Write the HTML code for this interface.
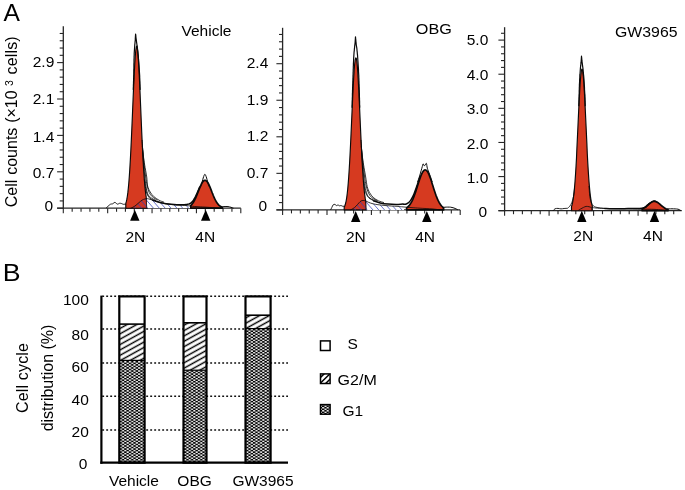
<!DOCTYPE html>
<html><head><meta charset="utf-8"><title>Figure</title>
<style>
html,body{margin:0;padding:0;background:#fff;}
body{width:685px;height:490px;overflow:hidden;font-family:"Liberation Sans",sans-serif;}
svg{display:block;will-change:transform;}
text{font-family:"Liberation Sans",sans-serif;fill:#000;}
.t{font-size:15.5px;}
.big{font-size:24.5px;}
</style></head><body>
<svg width="685" height="490" viewBox="0 0 685 490">
<defs>
<pattern id="bluehatch" width="5.3" height="5.3" patternUnits="userSpaceOnUse" patternTransform="translate(1.5,0) rotate(-45)">
<line x1="2.6" y1="0" x2="2.6" y2="5.3" stroke="#4656c8" stroke-width="0.85"/></pattern>
<pattern id="hatch" width="6" height="4.7" patternUnits="userSpaceOnUse" patternTransform="rotate(-29)">
<rect width="6" height="4.7" fill="#fff"/><line x1="0" y1="2.35" x2="6" y2="2.35" stroke="#000" stroke-width="1.45"/></pattern>
<pattern id="check" width="4.6" height="3.06" patternUnits="userSpaceOnUse">
<rect width="4.6" height="3.06" fill="#000"/><rect x="0.1" y="0.05" width="2.1" height="1.43" fill="#fff"/><rect x="2.4" y="1.58" width="2.1" height="1.43" fill="#fff"/></pattern>
</defs>
<rect width="685" height="490" fill="#fff"/>

<text x="3.6" y="21.2" class="big" textLength="16.4" lengthAdjust="spacingAndGlyphs">A</text>
<text x="2.8" y="281.0" class="big" textLength="17.8" lengthAdjust="spacingAndGlyphs">B</text>
<text x="181.5" y="36.3" class="t">Vehicle</text>
<text x="415.8" y="34.4" class="t" textLength="36" lengthAdjust="spacingAndGlyphs">OBG</text>
<text x="615" y="37.2" class="t" textLength="62.5" lengthAdjust="spacingAndGlyphs">GW3965</text>
<text transform="translate(16.9,207.2) rotate(-90)" style="font-size:16px;word-spacing:0.4px">Cell counts (×10<tspan dx="4.4" dy="-4.3" style="font-size:10.5px">3</tspan><tspan dx="5.6" dy="4.3" style="letter-spacing:0.15px">cells)</tspan></text>
<line x1="63.3" y1="26.2" x2="63.3" y2="208.79999999999998" stroke="#262626" stroke-width="1.3"/>
<line x1="57.099999999999994" y1="208.2" x2="240.8" y2="208.2" stroke="#262626" stroke-width="1.3"/>
<line x1="57.1" y1="208.20" x2="63.3" y2="208.20" stroke="#262626" stroke-width="1.1"/>
<line x1="59.7" y1="200.92" x2="63.3" y2="200.92" stroke="#262626" stroke-width="1.1"/>
<line x1="59.7" y1="193.64" x2="63.3" y2="193.64" stroke="#262626" stroke-width="1.1"/>
<line x1="59.7" y1="186.36" x2="63.3" y2="186.36" stroke="#262626" stroke-width="1.1"/>
<line x1="59.7" y1="179.08" x2="63.3" y2="179.08" stroke="#262626" stroke-width="1.1"/>
<line x1="57.1" y1="171.80" x2="63.3" y2="171.80" stroke="#262626" stroke-width="1.1"/>
<line x1="59.7" y1="164.52" x2="63.3" y2="164.52" stroke="#262626" stroke-width="1.1"/>
<line x1="59.7" y1="157.24" x2="63.3" y2="157.24" stroke="#262626" stroke-width="1.1"/>
<line x1="59.7" y1="149.96" x2="63.3" y2="149.96" stroke="#262626" stroke-width="1.1"/>
<line x1="59.7" y1="142.68" x2="63.3" y2="142.68" stroke="#262626" stroke-width="1.1"/>
<line x1="57.1" y1="135.40" x2="63.3" y2="135.40" stroke="#262626" stroke-width="1.1"/>
<line x1="59.7" y1="128.12" x2="63.3" y2="128.12" stroke="#262626" stroke-width="1.1"/>
<line x1="59.7" y1="120.84" x2="63.3" y2="120.84" stroke="#262626" stroke-width="1.1"/>
<line x1="59.7" y1="113.56" x2="63.3" y2="113.56" stroke="#262626" stroke-width="1.1"/>
<line x1="59.7" y1="106.28" x2="63.3" y2="106.28" stroke="#262626" stroke-width="1.1"/>
<line x1="57.1" y1="99.00" x2="63.3" y2="99.00" stroke="#262626" stroke-width="1.1"/>
<line x1="59.7" y1="91.72" x2="63.3" y2="91.72" stroke="#262626" stroke-width="1.1"/>
<line x1="59.7" y1="84.44" x2="63.3" y2="84.44" stroke="#262626" stroke-width="1.1"/>
<line x1="59.7" y1="77.16" x2="63.3" y2="77.16" stroke="#262626" stroke-width="1.1"/>
<line x1="59.7" y1="69.88" x2="63.3" y2="69.88" stroke="#262626" stroke-width="1.1"/>
<line x1="57.1" y1="62.60" x2="63.3" y2="62.60" stroke="#262626" stroke-width="1.1"/>
<line x1="59.7" y1="55.32" x2="63.3" y2="55.32" stroke="#262626" stroke-width="1.1"/>
<line x1="59.7" y1="48.04" x2="63.3" y2="48.04" stroke="#262626" stroke-width="1.1"/>
<line x1="59.7" y1="40.76" x2="63.3" y2="40.76" stroke="#262626" stroke-width="1.1"/>
<line x1="59.7" y1="33.48" x2="63.3" y2="33.48" stroke="#262626" stroke-width="1.1"/>
<line x1="63.30" y1="208.2" x2="63.30" y2="213.2" stroke="#262626" stroke-width="1.1"/>
<line x1="72.17" y1="208.2" x2="72.17" y2="211.7" stroke="#262626" stroke-width="1.1"/>
<line x1="81.05" y1="208.2" x2="81.05" y2="211.7" stroke="#262626" stroke-width="1.1"/>
<line x1="89.92" y1="208.2" x2="89.92" y2="211.7" stroke="#262626" stroke-width="1.1"/>
<line x1="98.80" y1="208.2" x2="98.80" y2="211.7" stroke="#262626" stroke-width="1.1"/>
<line x1="107.67" y1="208.2" x2="107.67" y2="213.2" stroke="#262626" stroke-width="1.1"/>
<line x1="116.55" y1="208.2" x2="116.55" y2="211.7" stroke="#262626" stroke-width="1.1"/>
<line x1="125.42" y1="208.2" x2="125.42" y2="211.7" stroke="#262626" stroke-width="1.1"/>
<line x1="134.30" y1="208.2" x2="134.30" y2="211.7" stroke="#262626" stroke-width="1.1"/>
<line x1="143.18" y1="208.2" x2="143.18" y2="211.7" stroke="#262626" stroke-width="1.1"/>
<line x1="152.05" y1="208.2" x2="152.05" y2="213.2" stroke="#262626" stroke-width="1.1"/>
<line x1="160.93" y1="208.2" x2="160.93" y2="211.7" stroke="#262626" stroke-width="1.1"/>
<line x1="169.80" y1="208.2" x2="169.80" y2="211.7" stroke="#262626" stroke-width="1.1"/>
<line x1="178.68" y1="208.2" x2="178.68" y2="211.7" stroke="#262626" stroke-width="1.1"/>
<line x1="187.55" y1="208.2" x2="187.55" y2="211.7" stroke="#262626" stroke-width="1.1"/>
<line x1="196.43" y1="208.2" x2="196.43" y2="213.2" stroke="#262626" stroke-width="1.1"/>
<line x1="205.30" y1="208.2" x2="205.30" y2="211.7" stroke="#262626" stroke-width="1.1"/>
<line x1="214.18" y1="208.2" x2="214.18" y2="211.7" stroke="#262626" stroke-width="1.1"/>
<line x1="223.05" y1="208.2" x2="223.05" y2="211.7" stroke="#262626" stroke-width="1.1"/>
<line x1="231.93" y1="208.2" x2="231.93" y2="211.7" stroke="#262626" stroke-width="1.1"/>
<line x1="240.80" y1="208.2" x2="240.80" y2="213.2" stroke="#262626" stroke-width="1.1"/>
<text x="53.1" y="210.9" text-anchor="end" class="t">0</text>
<text x="54.3" y="177.5" text-anchor="end" class="t">0.7</text>
<text x="54.3" y="141.8" text-anchor="end" class="t">1.4</text>
<text x="54.3" y="104.4" text-anchor="end" class="t">2.1</text>
<text x="54.3" y="66.8" text-anchor="end" class="t">2.9</text>
<path d="M106.00,208.20 C106.33,207.88 107.25,206.97 108.00,206.30 C108.75,205.63 109.72,204.62 110.50,204.20 C111.28,203.78 111.97,204.12 112.70,203.80 C113.43,203.48 114.27,202.33 114.90,202.30 C115.53,202.27 116.02,203.28 116.50,203.60 C116.98,203.92 117.30,204.25 117.80,204.20 C118.30,204.15 118.90,203.42 119.50,203.30 C120.10,203.18 120.77,203.33 121.40,203.50 C122.03,203.67 122.68,204.18 123.30,204.30 C123.92,204.42 124.57,204.12 125.10,204.20 C125.63,204.28 126.27,204.70 126.50,204.80" fill="none" stroke="#0a0a0a" stroke-width="0.9"/>
<polygon points="125.8,208.2 125.8,203.5 126.3,201.7 126.8,199.4 127.3,196.5 127.8,192.9 128.3,188.4 128.8,183.0 129.3,176.6 129.8,169.1 130.3,160.6 130.8,151.1 131.3,140.6 131.8,129.4 132.3,117.7 132.8,105.8 133.3,94.0 133.8,82.7 134.3,72.3 134.8,63.2 135.3,55.8 135.8,50.3 136.3,47.0 136.7,46.0 137.2,47.4 137.7,51.2 138.2,57.1 138.7,64.9 139.2,74.3 139.7,84.9 140.2,96.3 140.7,108.1 141.2,120.1 141.7,131.7 142.2,142.7 142.7,153.0 143.2,162.4 143.7,170.7 144.2,178.0 144.7,184.2 145.2,189.4 145.7,193.7 146.2,197.2 146.7,199.9 147.2,202.1 147.2,208.2" fill="#d63a20" stroke="#0a0a0a" stroke-width="1.15" stroke-linejoin="round"/>
<polygon points="190.7,208.2 190.7,205.5 191.2,205.1 191.7,204.5 192.2,203.9 192.7,203.3 193.2,202.5 193.7,201.7 194.2,200.9 194.7,199.9 195.2,198.9 195.7,197.8 196.2,196.7 196.7,195.5 197.2,194.3 197.7,193.0 198.2,191.7 198.7,190.4 199.2,189.2 199.7,187.9 200.2,186.7 200.7,185.6 201.2,184.5 201.7,183.5 202.2,182.6 202.7,181.9 203.2,181.3 203.7,180.8 204.2,180.5 204.7,180.3 205.2,180.3 205.7,180.5 206.2,180.8 206.8,181.3 207.3,181.9 207.8,182.6 208.3,183.5 208.8,184.5 209.3,185.5 209.8,186.7 210.3,187.9 210.8,189.1 211.3,190.4 211.8,191.7 212.3,193.0 212.8,194.2 213.3,195.5 213.8,196.7 214.3,197.8 214.8,198.9 215.3,199.9 215.8,200.8 216.3,201.7 216.8,202.5 217.3,203.3 217.8,203.9 218.3,204.5 218.8,205.1 219.3,205.5 219.8,205.9 220.3,206.3 220.8,206.6 221.3,206.9 221.8,207.1 222.3,207.3 222.3,208.2" fill="#d63a20" stroke="#0a0a0a" stroke-width="1.7" stroke-linejoin="round"/>
<clipPath id="cw136"><rect x="146.8" y="0" width="43.19999999999999" height="208.2"/></clipPath>
<clipPath id="ch136"><rect x="0" y="0" width="190" height="208.2"/></clipPath>
<path d="M130.50,208.20 C130.92,208.03 132.08,207.70 133.00,207.20 C133.92,206.70 135.00,205.97 136.00,205.20 C137.00,204.43 138.00,203.43 139.00,202.60 C140.00,201.77 141.00,200.82 142.00,200.20 C143.00,199.58 144.08,199.15 145.00,198.90 C145.92,198.65 146.67,198.63 147.50,198.70 C148.33,198.77 148.92,198.98 150.00,199.30 C151.08,199.62 152.33,200.08 154.00,200.60 C155.67,201.12 157.67,201.82 160.00,202.40 C162.33,202.98 165.00,203.65 168.00,204.10 C171.00,204.55 175.00,204.87 178.00,205.10 C181.00,205.33 184.00,205.35 186.00,205.50 C188.00,205.65 188.33,205.82 190.00,206.00 C191.67,206.18 193.50,206.42 196.00,206.60 C198.50,206.78 202.00,206.92 205.00,207.10 C208.00,207.28 211.33,207.52 214.00,207.70 C216.67,207.88 219.83,208.12 221.00,208.20 L221,208.2 L130.5,208.2 Z" fill="#fff" clip-path="url(#cw136)"/>
<clipPath id="ct136"><rect x="0" y="0" width="146.8" height="208.2"/></clipPath>
<path d="M130.50,208.20 C130.92,208.03 132.08,207.70 133.00,207.20 C133.92,206.70 135.00,205.97 136.00,205.20 C137.00,204.43 138.00,203.43 139.00,202.60 C140.00,201.77 141.00,200.82 142.00,200.20 C143.00,199.58 144.08,199.15 145.00,198.90 C145.92,198.65 146.67,198.63 147.50,198.70 C148.33,198.77 148.92,198.98 150.00,199.30 C151.08,199.62 152.33,200.08 154.00,200.60 C155.67,201.12 157.67,201.82 160.00,202.40 C162.33,202.98 165.00,203.65 168.00,204.10 C171.00,204.55 175.00,204.87 178.00,205.10 C181.00,205.33 184.00,205.35 186.00,205.50 C188.00,205.65 188.33,205.82 190.00,206.00 C191.67,206.18 193.50,206.42 196.00,206.60 C198.50,206.78 202.00,206.92 205.00,207.10 C208.00,207.28 211.33,207.52 214.00,207.70 C216.67,207.88 219.83,208.12 221.00,208.20 L221,208.2 L130.5,208.2 Z" fill="#7a2050" fill-opacity="0.12" clip-path="url(#ct136)"/>
<clipPath id="cs136"><path d="M130.50,208.20 C130.92,208.03 132.08,207.70 133.00,207.20 C133.92,206.70 135.00,205.97 136.00,205.20 C137.00,204.43 138.00,203.43 139.00,202.60 C140.00,201.77 141.00,200.82 142.00,200.20 C143.00,199.58 144.08,199.15 145.00,198.90 C145.92,198.65 146.67,198.63 147.50,198.70 C148.33,198.77 148.92,198.98 150.00,199.30 C151.08,199.62 152.33,200.08 154.00,200.60 C155.67,201.12 157.67,201.82 160.00,202.40 C162.33,202.98 165.00,203.65 168.00,204.10 C171.00,204.55 175.00,204.87 178.00,205.10 C181.00,205.33 184.00,205.35 186.00,205.50 C188.00,205.65 188.33,205.82 190.00,206.00 C191.67,206.18 193.50,206.42 196.00,206.60 C198.50,206.78 202.00,206.92 205.00,207.10 C208.00,207.28 211.33,207.52 214.00,207.70 C216.67,207.88 219.83,208.12 221.00,208.20 L221,208.2 L130.5,208.2 Z"/></clipPath>
<g clip-path="url(#ch136)"><path d="M117.9,194.2 L131.0,209.2 M123.7,194.2 L136.8,209.2 M129.6,194.2 L142.7,209.2 M135.5,194.2 L148.5,209.2 M141.3,194.2 L154.4,209.2 M147.2,194.2 L160.2,209.2 M153.0,194.2 L166.1,209.2 M158.9,194.2 L171.9,209.2 M164.7,194.2 L177.8,209.2 M170.6,194.2 L183.6,209.2 M176.4,194.2 L189.5,209.2 M182.2,194.2 L195.3,209.2 M188.1,194.2 L201.2,209.2" stroke="#3545b8" stroke-width="0.75" fill="none" clip-path="url(#cs136)"/></g>
<path d="M130.50,208.20 C130.92,208.03 132.08,207.70 133.00,207.20 C133.92,206.70 135.00,205.97 136.00,205.20 C137.00,204.43 138.00,203.43 139.00,202.60 C140.00,201.77 141.00,200.82 142.00,200.20 C143.00,199.58 144.08,199.15 145.00,198.90 C145.92,198.65 146.67,198.63 147.50,198.70 C148.33,198.77 148.92,198.98 150.00,199.30 C151.08,199.62 152.33,200.08 154.00,200.60 C155.67,201.12 157.67,201.82 160.00,202.40 C162.33,202.98 165.00,203.65 168.00,204.10 C171.00,204.55 175.00,204.87 178.00,205.10 C181.00,205.33 184.00,205.35 186.00,205.50 C188.00,205.65 188.33,205.82 190.00,206.00 C191.67,206.18 193.50,206.42 196.00,206.60 C198.50,206.78 202.00,206.92 205.00,207.10 C208.00,207.28 211.33,207.52 214.00,207.70 C216.67,207.88 219.83,208.12 221.00,208.20" fill="none" stroke="#0a0a0a" stroke-width="0.8"/>
<line x1="146.8" y1="208.2" x2="146.20000000000002" y2="199.2" stroke="#0a0a0a" stroke-width="0.7"/>
<path d="M142.10,140.00 C142.30,143.33 142.92,154.17 143.34,160.00 C143.75,165.83 144.16,170.67 144.60,175.00 C145.04,179.33 145.48,182.92 145.98,186.00 C146.48,189.08 146.85,191.60 147.60,193.50 C148.35,195.40 149.10,196.22 150.50,197.40 C151.90,198.58 155.08,200.07 156.00,200.60" fill="none" stroke="#0a0a0a" stroke-width="0.8"/>
<path d="M142.38,146.00 C142.63,148.67 143.37,157.00 143.90,162.00 C144.43,167.00 145.01,172.00 145.57,176.00 C146.14,180.00 146.67,183.25 147.28,186.00 C147.88,188.75 148.38,190.73 149.20,192.50 C150.02,194.27 150.82,195.32 152.20,196.60 C153.58,197.88 156.62,199.60 157.50,200.20" fill="none" stroke="#0a0a0a" stroke-width="0.8"/>
<path d="M142.57,150.00 C142.89,152.33 143.82,159.50 144.51,164.00 C145.21,168.50 146.23,173.33 146.74,177.00 C147.26,180.67 147.02,183.50 147.60,186.00 C148.18,188.50 149.20,190.27 150.20,192.00 C151.20,193.73 152.13,195.03 153.60,196.40 C155.07,197.77 157.27,199.23 159.00,200.20 C160.73,201.17 163.17,201.87 164.00,202.20" fill="none" stroke="#0a0a0a" stroke-width="0.8"/>
<path d="M144.40,180.00 C144.62,181.42 145.25,186.17 145.70,188.50 C146.15,190.83 146.48,192.45 147.10,194.00 C147.72,195.55 148.42,196.77 149.40,197.80 C150.38,198.83 152.40,199.80 153.00,200.20" fill="none" stroke="#0a0a0a" stroke-width="0.9" stroke-linejoin="round" stroke-linecap="round"/>
<path d="M153.00,200.20 C153.90,200.50 156.65,201.50 158.40,202.00 C160.15,202.50 161.78,202.87 163.50,203.20 C165.22,203.53 166.95,203.78 168.70,204.00 C170.45,204.22 172.30,204.37 174.00,204.50 C175.70,204.63 177.40,204.75 178.90,204.80 C180.40,204.85 181.65,204.87 183.00,204.80 C184.35,204.73 186.22,204.48 187.00,204.40 C187.78,204.32 187.38,204.38 187.65,204.33 C187.93,204.29 188.32,204.22 188.65,204.13 C188.98,204.03 189.32,203.91 189.65,203.75 C189.98,203.59 190.32,203.41 190.65,203.17 C190.98,202.94 191.32,202.67 191.65,202.35 C191.98,202.03 192.32,201.67 192.65,201.26 C192.98,200.85 193.32,200.39 193.65,199.88 C193.98,199.38 194.32,198.82 194.65,198.22 C194.98,197.62 195.32,196.96 195.65,196.28 C195.98,195.60 196.32,194.87 196.65,194.12 C196.98,193.38 197.32,192.59 197.65,191.81 C197.98,191.03 198.32,190.22 198.65,189.44 C198.98,188.66 199.48,187.51 199.65,187.13" fill="none" stroke="#0a0a0a" stroke-width="1.5" stroke-linejoin="round" stroke-linecap="round"/>
<polyline points="133.3,89.5 133.3,88.0 133.4,86.5 133.4,85.0 133.5,83.5 133.5,82.0 133.6,80.5 133.6,79.0 133.7,77.5 133.7,76.0 133.8,74.5 133.8,73.0 133.8,71.5 133.8,70.0 133.9,68.5 133.9,67.0 133.9,65.5 133.9,64.0 134.0,62.5 134.0,61.0 134.0,59.5 134.1,58.0 134.1,56.5 134.2,55.0 134.2,53.5 134.3,52.0 134.4,50.5 134.5,49.0 134.6,47.5 134.7,46.0 134.8,44.5 135.0,43.0 135.1,41.5 135.3,40.0 135.3,38.5 135.4,37.0 135.5,35.5 135.6,34.0 135.8,35.5 135.9,37.0 136.1,38.5 136.3,40.0 136.5,41.5 136.7,43.0 136.9,44.5 137.2,46.0 137.4,47.5 137.5,49.0 137.7,50.5 137.9,52.0 138.0,53.5 138.2,55.0 138.3,56.5 138.4,58.0 138.6,59.5 138.7,61.0 138.8,62.5 138.9,64.0 139.0,65.5 139.1,67.0 139.2,68.5 139.3,70.0 139.4,71.5 139.5,73.0 139.6,74.5 139.7,76.0 139.7,77.5 139.8,79.0 139.8,80.5 139.9,82.0 139.9,83.5 140.0,85.0 140.0,86.5 140.1,88.0 140.1,89.5" fill="none" stroke="#0a0a0a" stroke-width="1.2" stroke-linejoin="round" stroke-linecap="round"/>
<path d="M200.80,186.50 C201.03,185.68 201.80,183.02 202.20,181.60 C202.60,180.18 202.88,179.03 203.20,178.00 C203.52,176.97 203.82,176.03 204.10,175.40 C204.38,174.77 204.63,174.20 204.90,174.20 C205.17,174.20 205.42,174.77 205.70,175.40 C205.98,176.03 206.28,176.97 206.60,178.00 C206.92,179.03 207.20,180.18 207.60,181.60 C208.00,183.02 208.77,185.68 209.00,186.50" fill="none" stroke="#0a0a0a" stroke-width="1.0" stroke-linejoin="round"/>
<path d="M221.50,207.00 C221.92,206.93 222.92,206.67 224.00,206.60 C225.08,206.53 226.83,206.48 228.00,206.60 C229.17,206.72 230.08,207.03 231.00,207.30 C231.92,207.57 233.08,208.05 233.50,208.20" fill="none" stroke="#0a0a0a" stroke-width="1.0"/>
<polygon points="134.8,209.7 130.10000000000002,220.7 139.5,220.7" fill="#000"/>
<polygon points="205.7,209.7 201.0,220.7 210.39999999999998,220.7" fill="#000"/>
<text x="135.3" y="241.9" text-anchor="middle" class="t">2N</text>
<text x="205.2" y="241.9" text-anchor="middle" class="t">4N</text>
<line x1="282.6" y1="27.8" x2="282.6" y2="210.5" stroke="#262626" stroke-width="1.3"/>
<line x1="276.40000000000003" y1="209.9" x2="460.2" y2="209.9" stroke="#262626" stroke-width="1.3"/>
<line x1="276.4" y1="209.90" x2="282.6" y2="209.90" stroke="#262626" stroke-width="1.1"/>
<line x1="279.0" y1="202.59" x2="282.6" y2="202.59" stroke="#262626" stroke-width="1.1"/>
<line x1="279.0" y1="195.28" x2="282.6" y2="195.28" stroke="#262626" stroke-width="1.1"/>
<line x1="279.0" y1="187.97" x2="282.6" y2="187.97" stroke="#262626" stroke-width="1.1"/>
<line x1="279.0" y1="180.66" x2="282.6" y2="180.66" stroke="#262626" stroke-width="1.1"/>
<line x1="276.4" y1="173.35" x2="282.6" y2="173.35" stroke="#262626" stroke-width="1.1"/>
<line x1="279.0" y1="166.04" x2="282.6" y2="166.04" stroke="#262626" stroke-width="1.1"/>
<line x1="279.0" y1="158.73" x2="282.6" y2="158.73" stroke="#262626" stroke-width="1.1"/>
<line x1="279.0" y1="151.42" x2="282.6" y2="151.42" stroke="#262626" stroke-width="1.1"/>
<line x1="279.0" y1="144.11" x2="282.6" y2="144.11" stroke="#262626" stroke-width="1.1"/>
<line x1="276.4" y1="136.80" x2="282.6" y2="136.80" stroke="#262626" stroke-width="1.1"/>
<line x1="279.0" y1="129.49" x2="282.6" y2="129.49" stroke="#262626" stroke-width="1.1"/>
<line x1="279.0" y1="122.18" x2="282.6" y2="122.18" stroke="#262626" stroke-width="1.1"/>
<line x1="279.0" y1="114.87" x2="282.6" y2="114.87" stroke="#262626" stroke-width="1.1"/>
<line x1="279.0" y1="107.56" x2="282.6" y2="107.56" stroke="#262626" stroke-width="1.1"/>
<line x1="276.4" y1="100.25" x2="282.6" y2="100.25" stroke="#262626" stroke-width="1.1"/>
<line x1="279.0" y1="92.94" x2="282.6" y2="92.94" stroke="#262626" stroke-width="1.1"/>
<line x1="279.0" y1="85.63" x2="282.6" y2="85.63" stroke="#262626" stroke-width="1.1"/>
<line x1="279.0" y1="78.32" x2="282.6" y2="78.32" stroke="#262626" stroke-width="1.1"/>
<line x1="279.0" y1="71.01" x2="282.6" y2="71.01" stroke="#262626" stroke-width="1.1"/>
<line x1="276.4" y1="63.70" x2="282.6" y2="63.70" stroke="#262626" stroke-width="1.1"/>
<line x1="279.0" y1="56.39" x2="282.6" y2="56.39" stroke="#262626" stroke-width="1.1"/>
<line x1="279.0" y1="49.08" x2="282.6" y2="49.08" stroke="#262626" stroke-width="1.1"/>
<line x1="279.0" y1="41.77" x2="282.6" y2="41.77" stroke="#262626" stroke-width="1.1"/>
<line x1="279.0" y1="34.46" x2="282.6" y2="34.46" stroke="#262626" stroke-width="1.1"/>
<line x1="282.60" y1="209.9" x2="282.60" y2="214.9" stroke="#262626" stroke-width="1.1"/>
<line x1="291.48" y1="209.9" x2="291.48" y2="213.4" stroke="#262626" stroke-width="1.1"/>
<line x1="300.36" y1="209.9" x2="300.36" y2="213.4" stroke="#262626" stroke-width="1.1"/>
<line x1="309.24" y1="209.9" x2="309.24" y2="213.4" stroke="#262626" stroke-width="1.1"/>
<line x1="318.12" y1="209.9" x2="318.12" y2="213.4" stroke="#262626" stroke-width="1.1"/>
<line x1="327.00" y1="209.9" x2="327.00" y2="214.9" stroke="#262626" stroke-width="1.1"/>
<line x1="335.88" y1="209.9" x2="335.88" y2="213.4" stroke="#262626" stroke-width="1.1"/>
<line x1="344.76" y1="209.9" x2="344.76" y2="213.4" stroke="#262626" stroke-width="1.1"/>
<line x1="353.64" y1="209.9" x2="353.64" y2="213.4" stroke="#262626" stroke-width="1.1"/>
<line x1="362.52" y1="209.9" x2="362.52" y2="213.4" stroke="#262626" stroke-width="1.1"/>
<line x1="371.40" y1="209.9" x2="371.40" y2="214.9" stroke="#262626" stroke-width="1.1"/>
<line x1="380.28" y1="209.9" x2="380.28" y2="213.4" stroke="#262626" stroke-width="1.1"/>
<line x1="389.16" y1="209.9" x2="389.16" y2="213.4" stroke="#262626" stroke-width="1.1"/>
<line x1="398.04" y1="209.9" x2="398.04" y2="213.4" stroke="#262626" stroke-width="1.1"/>
<line x1="406.92" y1="209.9" x2="406.92" y2="213.4" stroke="#262626" stroke-width="1.1"/>
<line x1="415.80" y1="209.9" x2="415.80" y2="214.9" stroke="#262626" stroke-width="1.1"/>
<line x1="424.68" y1="209.9" x2="424.68" y2="213.4" stroke="#262626" stroke-width="1.1"/>
<line x1="433.56" y1="209.9" x2="433.56" y2="213.4" stroke="#262626" stroke-width="1.1"/>
<line x1="442.44" y1="209.9" x2="442.44" y2="213.4" stroke="#262626" stroke-width="1.1"/>
<line x1="451.32" y1="209.9" x2="451.32" y2="213.4" stroke="#262626" stroke-width="1.1"/>
<line x1="460.20" y1="209.9" x2="460.20" y2="214.9" stroke="#262626" stroke-width="1.1"/>
<text x="267.1" y="211.4" text-anchor="end" class="t">0</text>
<text x="268.3" y="177.5" text-anchor="end" class="t">0.7</text>
<text x="268.3" y="140.7" text-anchor="end" class="t">1.2</text>
<text x="268.3" y="105.3" text-anchor="end" class="t">1.9</text>
<text x="268.3" y="68.2" text-anchor="end" class="t">2.4</text>
<path d="M330.60,209.90 C330.80,209.50 331.37,208.35 331.80,207.50 C332.23,206.65 332.67,205.32 333.20,204.80 C333.73,204.28 334.45,204.27 335.00,204.40 C335.55,204.53 336.00,205.52 336.50,205.60 C337.00,205.68 337.50,204.87 338.00,204.90 C338.50,204.93 339.00,205.70 339.50,205.80 C340.00,205.90 340.50,205.43 341.00,205.50 C341.50,205.57 342.00,206.07 342.50,206.20 C343.00,206.33 343.55,206.23 344.00,206.30 C344.45,206.37 345.00,206.55 345.20,206.60" fill="none" stroke="#0a0a0a" stroke-width="0.9"/>
<polygon points="344.2,209.9 344.2,207.3 344.7,206.2 345.2,204.8 345.7,203.0 346.2,200.6 346.7,197.6 347.2,193.8 347.7,189.2 348.2,183.6 348.7,177.1 349.2,169.5 349.7,161.0 350.2,151.5 350.7,141.2 351.2,130.4 351.7,119.1 352.2,107.9 352.7,96.9 353.2,86.6 353.7,77.5 354.2,69.7 354.7,63.7 355.2,59.7 355.8,57.9 356.3,58.4 356.8,61.1 357.3,65.9 357.8,72.7 358.3,81.1 358.8,90.8 359.3,101.4 359.8,112.5 360.3,123.8 360.8,134.9 361.3,145.5 361.8,155.5 362.3,164.6 362.8,172.8 363.3,179.9 363.8,186.0 364.3,191.2 364.8,195.4 365.3,198.9 365.8,201.6 366.3,203.8 366.3,209.9" fill="#d63a20" stroke="#0a0a0a" stroke-width="1.15" stroke-linejoin="round"/>
<polygon points="406.6,209.9 406.6,207.9 407.1,207.6 407.6,207.2 408.1,206.7 408.6,206.2 409.1,205.7 409.6,205.0 410.1,204.3 410.6,203.6 411.1,202.7 411.6,201.8 412.1,200.8 412.6,199.8 413.1,198.6 413.6,197.4 414.1,196.1 414.6,194.8 415.1,193.4 415.6,191.9 416.1,190.4 416.6,188.8 417.1,187.2 417.6,185.6 418.1,184.0 418.6,182.5 419.1,180.9 419.6,179.4 420.1,178.0 420.6,176.6 421.1,175.3 421.6,174.1 422.1,173.1 422.6,172.2 423.1,171.4 423.6,170.8 424.1,170.3 424.6,170.0 425.1,169.9 425.6,170.0 426.1,170.2 426.6,170.6 427.1,171.1 427.6,171.8 428.1,172.7 428.6,173.7 429.1,174.8 429.6,176.1 430.1,177.4 430.6,178.8 431.1,180.3 431.6,181.8 432.1,183.4 432.6,185.0 433.1,186.6 433.6,188.2 434.1,189.8 434.6,191.3 435.1,192.8 435.6,194.2 436.1,195.6 436.6,196.9 437.1,198.2 437.6,199.3 438.1,200.4 438.6,201.4 439.1,202.4 439.6,203.3 440.1,204.0 440.6,204.8 441.1,205.4 441.6,206.0 442.1,206.5 442.6,207.0 443.1,207.4 443.6,207.8 443.6,209.9" fill="#d63a20" stroke="#0a0a0a" stroke-width="1.7" stroke-linejoin="round"/>
<clipPath id="cw355"><rect x="366.2" y="0" width="37.80000000000001" height="209.9"/></clipPath>
<clipPath id="ch355"><rect x="0" y="0" width="404" height="209.9"/></clipPath>
<path d="M350.50,209.90 C350.92,209.68 352.08,209.22 353.00,208.60 C353.92,207.98 355.00,207.17 356.00,206.20 C357.00,205.23 358.17,203.67 359.00,202.80 C359.83,201.93 360.33,201.40 361.00,201.00 C361.67,200.60 362.25,200.42 363.00,200.40 C363.75,200.38 364.55,200.57 365.50,200.90 C366.45,201.23 367.45,201.92 368.70,202.40 C369.95,202.88 371.45,203.42 373.00,203.80 C374.55,204.18 376.00,204.42 378.00,204.70 C380.00,204.98 382.78,205.28 385.00,205.50 C387.22,205.72 389.13,205.85 391.30,206.00 C393.47,206.15 396.05,206.25 398.00,206.40 C399.95,206.55 400.83,206.70 403.00,206.90 C405.17,207.10 408.17,207.38 411.00,207.60 C413.83,207.82 416.50,207.98 420.00,208.20 C423.50,208.42 428.67,208.62 432.00,208.90 C435.33,209.18 438.67,209.73 440.00,209.90 L440,209.9 L350.5,209.9 Z" fill="#fff" clip-path="url(#cw355)"/>
<clipPath id="ct355"><rect x="0" y="0" width="366.2" height="209.9"/></clipPath>
<path d="M350.50,209.90 C350.92,209.68 352.08,209.22 353.00,208.60 C353.92,207.98 355.00,207.17 356.00,206.20 C357.00,205.23 358.17,203.67 359.00,202.80 C359.83,201.93 360.33,201.40 361.00,201.00 C361.67,200.60 362.25,200.42 363.00,200.40 C363.75,200.38 364.55,200.57 365.50,200.90 C366.45,201.23 367.45,201.92 368.70,202.40 C369.95,202.88 371.45,203.42 373.00,203.80 C374.55,204.18 376.00,204.42 378.00,204.70 C380.00,204.98 382.78,205.28 385.00,205.50 C387.22,205.72 389.13,205.85 391.30,206.00 C393.47,206.15 396.05,206.25 398.00,206.40 C399.95,206.55 400.83,206.70 403.00,206.90 C405.17,207.10 408.17,207.38 411.00,207.60 C413.83,207.82 416.50,207.98 420.00,208.20 C423.50,208.42 428.67,208.62 432.00,208.90 C435.33,209.18 438.67,209.73 440.00,209.90 L440,209.9 L350.5,209.9 Z" fill="#7a2050" fill-opacity="0.12" clip-path="url(#ct355)"/>
<clipPath id="cs355"><path d="M350.50,209.90 C350.92,209.68 352.08,209.22 353.00,208.60 C353.92,207.98 355.00,207.17 356.00,206.20 C357.00,205.23 358.17,203.67 359.00,202.80 C359.83,201.93 360.33,201.40 361.00,201.00 C361.67,200.60 362.25,200.42 363.00,200.40 C363.75,200.38 364.55,200.57 365.50,200.90 C366.45,201.23 367.45,201.92 368.70,202.40 C369.95,202.88 371.45,203.42 373.00,203.80 C374.55,204.18 376.00,204.42 378.00,204.70 C380.00,204.98 382.78,205.28 385.00,205.50 C387.22,205.72 389.13,205.85 391.30,206.00 C393.47,206.15 396.05,206.25 398.00,206.40 C399.95,206.55 400.83,206.70 403.00,206.90 C405.17,207.10 408.17,207.38 411.00,207.60 C413.83,207.82 416.50,207.98 420.00,208.20 C423.50,208.42 428.67,208.62 432.00,208.90 C435.33,209.18 438.67,209.73 440.00,209.90 L440,209.9 L350.5,209.9 Z"/></clipPath>
<g clip-path="url(#ch355)"><path d="M337.5,195.9 L350.6,210.9 M343.3,195.9 L356.4,210.9 M349.1,195.9 L362.2,210.9 M354.9,195.9 L368.0,210.9 M360.7,195.9 L373.8,210.9 M366.5,195.9 L379.6,210.9 M372.3,195.9 L385.4,210.9 M378.1,195.9 L391.2,210.9 M383.9,195.9 L397.0,210.9 M389.7,195.9 L402.8,210.9 M395.5,195.9 L408.6,210.9 M401.3,195.9 L414.4,210.9" stroke="#3545b8" stroke-width="0.75" fill="none" clip-path="url(#cs355)"/></g>
<path d="M350.50,209.90 C350.92,209.68 352.08,209.22 353.00,208.60 C353.92,207.98 355.00,207.17 356.00,206.20 C357.00,205.23 358.17,203.67 359.00,202.80 C359.83,201.93 360.33,201.40 361.00,201.00 C361.67,200.60 362.25,200.42 363.00,200.40 C363.75,200.38 364.55,200.57 365.50,200.90 C366.45,201.23 367.45,201.92 368.70,202.40 C369.95,202.88 371.45,203.42 373.00,203.80 C374.55,204.18 376.00,204.42 378.00,204.70 C380.00,204.98 382.78,205.28 385.00,205.50 C387.22,205.72 389.13,205.85 391.30,206.00 C393.47,206.15 396.05,206.25 398.00,206.40 C399.95,206.55 400.83,206.70 403.00,206.90 C405.17,207.10 408.17,207.38 411.00,207.60 C413.83,207.82 416.50,207.98 420.00,208.20 C423.50,208.42 428.67,208.62 432.00,208.90 C435.33,209.18 438.67,209.73 440.00,209.90" fill="none" stroke="#0a0a0a" stroke-width="0.8"/>
<line x1="366.2" y1="209.9" x2="365.59999999999997" y2="200.9" stroke="#0a0a0a" stroke-width="0.7"/>
<path d="M361.01,140.00 C361.22,143.33 361.85,154.17 362.27,160.00 C362.69,165.83 363.10,170.67 363.53,175.00 C363.97,179.33 364.31,182.80 364.89,186.00 C365.47,189.20 366.15,192.17 367.00,194.20 C367.85,196.23 368.50,197.03 370.00,198.20 C371.50,199.37 375.00,200.70 376.00,201.20" fill="none" stroke="#0a0a0a" stroke-width="0.8"/>
<path d="M361.30,146.00 C361.56,148.67 362.30,157.00 362.83,162.00 C363.37,167.00 363.94,172.00 364.50,176.00 C365.06,180.00 365.51,183.13 366.19,186.00 C366.87,188.87 367.66,191.27 368.60,193.20 C369.54,195.13 370.32,196.30 371.80,197.60 C373.28,198.90 376.55,200.43 377.50,201.00" fill="none" stroke="#0a0a0a" stroke-width="0.8"/>
<path d="M361.50,150.00 C361.82,152.33 362.75,159.50 363.45,164.00 C364.14,168.50 365.05,173.25 365.67,177.00 C366.30,180.75 366.55,183.90 367.20,186.50 C367.85,189.10 368.60,190.78 369.60,192.60 C370.60,194.42 371.72,196.03 373.20,197.40 C374.68,198.77 376.70,199.93 378.50,200.80 C380.30,201.67 383.08,202.30 384.00,202.60" fill="none" stroke="#0a0a0a" stroke-width="0.8"/>
<path d="M363.50,182.00 C363.73,183.33 364.38,187.90 364.90,190.00 C365.42,192.10 365.93,193.30 366.60,194.60 C367.27,195.90 367.72,196.75 368.90,197.80 C370.08,198.85 372.90,200.38 373.70,200.90" fill="none" stroke="#0a0a0a" stroke-width="0.9" stroke-linejoin="round" stroke-linecap="round"/>
<path d="M373.70,200.90 C374.77,201.23 377.70,202.37 380.10,202.90 C382.50,203.43 385.43,203.83 388.10,204.10 C390.77,204.37 393.68,204.50 396.10,204.50 C398.52,204.50 401.41,204.15 402.60,204.10 C403.79,204.05 402.98,204.19 403.25,204.22 C403.52,204.24 403.92,204.25 404.25,204.24 C404.58,204.23 404.92,204.21 405.25,204.15 C405.58,204.10 405.92,204.03 406.25,203.92 C406.58,203.81 406.92,203.68 407.25,203.51 C407.58,203.34 407.92,203.13 408.25,202.88 C408.58,202.64 408.92,202.35 409.25,202.02 C409.58,201.68 409.92,201.30 410.25,200.87 C410.58,200.44 410.92,199.96 411.25,199.43 C411.58,198.89 411.92,198.31 412.25,197.67 C412.58,197.03 412.92,196.34 413.25,195.60 C413.58,194.87 413.92,194.07 414.25,193.24 C414.58,192.41 414.92,191.53 415.25,190.63 C415.58,189.72 415.92,188.77 416.25,187.82 C416.58,186.86 416.92,185.87 417.25,184.90 C417.58,183.92 417.92,182.93 418.25,181.96 C418.58,181.00 418.92,180.04 419.25,179.13 C419.58,178.22 420.08,176.95 420.25,176.51" fill="none" stroke="#0a0a0a" stroke-width="1.5" stroke-linejoin="round" stroke-linecap="round"/>
<polyline points="352.1,107.3 352.1,105.8 352.2,104.3 352.2,102.8 352.2,101.3 352.3,99.8 352.3,98.3 352.4,96.8 352.4,95.3 352.4,93.8 352.5,92.3 352.5,90.8 352.6,89.3 352.6,87.8 352.7,86.3 352.7,84.8 352.8,83.3 352.8,81.8 352.9,80.3 352.9,78.8 353.0,77.3 353.0,75.8 353.1,74.3 353.1,72.8 353.2,71.3 353.2,69.8 353.3,68.3 353.3,66.8 353.4,65.3 353.4,63.8 353.5,62.3 353.6,60.8 353.6,59.3 353.7,57.8 353.8,56.3 353.9,54.8 354.0,53.3 354.1,51.8 354.3,50.3 354.4,48.8 354.6,47.3 354.7,45.8 354.9,44.3 355.1,42.8 355.2,41.3 355.3,39.8 355.4,38.3 355.5,36.8 355.6,38.3 355.8,39.8 355.9,41.3 356.1,42.8 356.2,44.3 356.4,45.8 356.7,47.3 356.9,48.8 357.0,50.3 357.2,51.8 357.3,53.3 357.5,54.8 357.6,56.3 357.7,57.8 357.8,59.3 357.9,60.8 358.0,62.3 358.1,63.8 358.2,65.3 358.3,66.8 358.4,68.3 358.5,69.8 358.5,71.3 358.6,72.8 358.7,74.3 358.8,75.8 358.8,77.3 358.9,78.8 358.9,80.3 359.0,81.8 359.0,83.3 359.1,84.8 359.1,86.3 359.2,87.8 359.2,89.3 359.3,90.8 359.3,92.3 359.4,93.8 359.4,95.3 359.4,96.8 359.5,98.3 359.5,99.8 359.6,101.3 359.6,102.8 359.6,104.3 359.7,105.8 359.7,107.3" fill="none" stroke="#0a0a0a" stroke-width="1.2" stroke-linejoin="round" stroke-linecap="round"/>
<path d="M417.60,182.00 C417.93,181.00 419.00,177.92 419.60,176.00 C420.20,174.08 420.75,172.08 421.20,170.50 C421.65,168.92 421.98,167.62 422.30,166.50 C422.62,165.38 422.78,163.92 423.10,163.80 C423.42,163.68 423.85,165.60 424.20,165.80 C424.55,166.00 424.83,165.40 425.20,165.00 C425.57,164.60 426.05,162.87 426.40,163.40 C426.75,163.93 426.98,166.97 427.30,168.20 C427.62,169.43 427.88,169.67 428.30,170.80 C428.72,171.93 429.15,173.13 429.80,175.00 C430.45,176.87 431.80,180.83 432.20,182.00" fill="none" stroke="#0a0a0a" stroke-width="1.0" stroke-linejoin="round"/>
<path d="M442.40,207.80 C442.83,207.70 443.62,207.30 445.00,207.20 C446.38,207.10 449.03,207.00 450.70,207.20 C452.37,207.40 453.78,207.95 455.00,208.40 C456.22,208.85 457.50,209.65 458.00,209.90" fill="none" stroke="#0a0a0a" stroke-width="1.0"/>
<polygon points="355.7,211.1 351.0,222.1 360.4,222.1" fill="#000"/>
<polygon points="426.8,211.1 422.1,222.1 431.5,222.1" fill="#000"/>
<text x="355.8" y="241.7" text-anchor="middle" class="t">2N</text>
<text x="425.1" y="241.7" text-anchor="middle" class="t">4N</text>
<line x1="504.6" y1="27.2" x2="504.6" y2="211.29999999999998" stroke="#262626" stroke-width="1.3"/>
<line x1="498.40000000000003" y1="210.7" x2="681.8" y2="210.7" stroke="#262626" stroke-width="1.3"/>
<line x1="498.4" y1="210.70" x2="504.6" y2="210.70" stroke="#262626" stroke-width="1.1"/>
<line x1="501.0" y1="203.88" x2="504.6" y2="203.88" stroke="#262626" stroke-width="1.1"/>
<line x1="501.0" y1="197.05" x2="504.6" y2="197.05" stroke="#262626" stroke-width="1.1"/>
<line x1="501.0" y1="190.23" x2="504.6" y2="190.23" stroke="#262626" stroke-width="1.1"/>
<line x1="501.0" y1="183.40" x2="504.6" y2="183.40" stroke="#262626" stroke-width="1.1"/>
<line x1="498.4" y1="176.58" x2="504.6" y2="176.58" stroke="#262626" stroke-width="1.1"/>
<line x1="501.0" y1="169.76" x2="504.6" y2="169.76" stroke="#262626" stroke-width="1.1"/>
<line x1="501.0" y1="162.93" x2="504.6" y2="162.93" stroke="#262626" stroke-width="1.1"/>
<line x1="501.0" y1="156.11" x2="504.6" y2="156.11" stroke="#262626" stroke-width="1.1"/>
<line x1="501.0" y1="149.28" x2="504.6" y2="149.28" stroke="#262626" stroke-width="1.1"/>
<line x1="498.4" y1="142.46" x2="504.6" y2="142.46" stroke="#262626" stroke-width="1.1"/>
<line x1="501.0" y1="135.64" x2="504.6" y2="135.64" stroke="#262626" stroke-width="1.1"/>
<line x1="501.0" y1="128.81" x2="504.6" y2="128.81" stroke="#262626" stroke-width="1.1"/>
<line x1="501.0" y1="121.99" x2="504.6" y2="121.99" stroke="#262626" stroke-width="1.1"/>
<line x1="501.0" y1="115.16" x2="504.6" y2="115.16" stroke="#262626" stroke-width="1.1"/>
<line x1="498.4" y1="108.34" x2="504.6" y2="108.34" stroke="#262626" stroke-width="1.1"/>
<line x1="501.0" y1="101.52" x2="504.6" y2="101.52" stroke="#262626" stroke-width="1.1"/>
<line x1="501.0" y1="94.69" x2="504.6" y2="94.69" stroke="#262626" stroke-width="1.1"/>
<line x1="501.0" y1="87.87" x2="504.6" y2="87.87" stroke="#262626" stroke-width="1.1"/>
<line x1="501.0" y1="81.04" x2="504.6" y2="81.04" stroke="#262626" stroke-width="1.1"/>
<line x1="498.4" y1="74.22" x2="504.6" y2="74.22" stroke="#262626" stroke-width="1.1"/>
<line x1="501.0" y1="67.40" x2="504.6" y2="67.40" stroke="#262626" stroke-width="1.1"/>
<line x1="501.0" y1="60.57" x2="504.6" y2="60.57" stroke="#262626" stroke-width="1.1"/>
<line x1="501.0" y1="53.75" x2="504.6" y2="53.75" stroke="#262626" stroke-width="1.1"/>
<line x1="501.0" y1="46.92" x2="504.6" y2="46.92" stroke="#262626" stroke-width="1.1"/>
<line x1="498.4" y1="40.10" x2="504.6" y2="40.10" stroke="#262626" stroke-width="1.1"/>
<line x1="501.0" y1="33.28" x2="504.6" y2="33.28" stroke="#262626" stroke-width="1.1"/>
<line x1="504.60" y1="210.7" x2="504.60" y2="215.7" stroke="#262626" stroke-width="1.1"/>
<line x1="513.50" y1="210.7" x2="513.50" y2="214.2" stroke="#262626" stroke-width="1.1"/>
<line x1="522.40" y1="210.7" x2="522.40" y2="214.2" stroke="#262626" stroke-width="1.1"/>
<line x1="531.30" y1="210.7" x2="531.30" y2="214.2" stroke="#262626" stroke-width="1.1"/>
<line x1="540.20" y1="210.7" x2="540.20" y2="214.2" stroke="#262626" stroke-width="1.1"/>
<line x1="549.10" y1="210.7" x2="549.10" y2="215.7" stroke="#262626" stroke-width="1.1"/>
<line x1="558.00" y1="210.7" x2="558.00" y2="214.2" stroke="#262626" stroke-width="1.1"/>
<line x1="566.90" y1="210.7" x2="566.90" y2="214.2" stroke="#262626" stroke-width="1.1"/>
<line x1="575.80" y1="210.7" x2="575.80" y2="214.2" stroke="#262626" stroke-width="1.1"/>
<line x1="584.70" y1="210.7" x2="584.70" y2="214.2" stroke="#262626" stroke-width="1.1"/>
<line x1="593.60" y1="210.7" x2="593.60" y2="215.7" stroke="#262626" stroke-width="1.1"/>
<line x1="602.50" y1="210.7" x2="602.50" y2="214.2" stroke="#262626" stroke-width="1.1"/>
<line x1="611.40" y1="210.7" x2="611.40" y2="214.2" stroke="#262626" stroke-width="1.1"/>
<line x1="620.30" y1="210.7" x2="620.30" y2="214.2" stroke="#262626" stroke-width="1.1"/>
<line x1="629.20" y1="210.7" x2="629.20" y2="214.2" stroke="#262626" stroke-width="1.1"/>
<line x1="638.10" y1="210.7" x2="638.10" y2="215.7" stroke="#262626" stroke-width="1.1"/>
<line x1="647.00" y1="210.7" x2="647.00" y2="214.2" stroke="#262626" stroke-width="1.1"/>
<line x1="655.90" y1="210.7" x2="655.90" y2="214.2" stroke="#262626" stroke-width="1.1"/>
<line x1="664.80" y1="210.7" x2="664.80" y2="214.2" stroke="#262626" stroke-width="1.1"/>
<line x1="673.70" y1="210.7" x2="673.70" y2="214.2" stroke="#262626" stroke-width="1.1"/>
<text x="487.1" y="217.1" text-anchor="end" class="t">0</text>
<text x="488.3" y="182.8" text-anchor="end" class="t">1.0</text>
<text x="488.3" y="148.8" text-anchor="end" class="t">2.0</text>
<text x="488.3" y="114.4" text-anchor="end" class="t">3.0</text>
<text x="488.3" y="79.9" text-anchor="end" class="t">4.0</text>
<text x="488.3" y="45.4" text-anchor="end" class="t">5.0</text>
<path d="M553.00,210.70 C553.33,210.38 554.17,209.18 555.00,208.80 C555.83,208.42 557.00,208.38 558.00,208.40 C559.00,208.42 560.00,208.88 561.00,208.90 C562.00,208.92 562.92,208.60 564.00,208.50 C565.08,208.40 566.92,208.33 567.50,208.30" fill="none" stroke="#0a0a0a" stroke-width="0.9"/>
<polygon points="571.5,210.7 571.5,206.6 572.0,205.0 572.5,202.9 573.0,200.2 573.5,196.9 574.0,192.7 574.5,187.7 575.0,181.7 575.5,174.7 576.0,166.7 576.5,157.9 576.9,148.2 577.4,137.9 577.9,127.2 578.4,116.4 578.9,106.0 579.4,96.1 579.9,87.4 580.4,80.0 580.9,74.3 581.4,70.6 581.9,69.0 582.4,69.7 582.9,72.6 583.4,77.5 583.9,84.2 584.4,92.5 584.9,101.9 585.4,112.2 585.9,122.8 586.4,133.6 586.9,144.1 587.3,154.0 587.8,163.2 588.3,171.6 588.8,179.0 589.3,185.4 589.8,190.8 590.3,195.3 590.8,198.9 591.3,201.9 591.8,204.2 592.3,206.0 592.3,210.7" fill="#d63a20" stroke="#0a0a0a" stroke-width="1.15" stroke-linejoin="round"/>
<polygon points="642.2,210.7 642.2,209.0 642.7,208.7 643.2,208.4 643.7,208.1 644.2,207.8 644.7,207.5 645.2,207.1 645.7,206.7 646.2,206.3 646.7,205.9 647.2,205.5 647.7,205.1 648.2,204.7 648.7,204.3 649.1,203.8 649.6,203.5 650.1,203.1 650.6,202.7 651.1,202.4 651.6,202.1 652.1,201.9 652.6,201.7 653.1,201.5 653.6,201.5 654.1,201.4 654.6,201.4 655.1,201.5 655.6,201.6 656.1,201.7 656.6,201.9 657.1,202.2 657.6,202.5 658.1,202.8 658.6,203.2 659.1,203.5 659.6,203.9 660.1,204.3 660.6,204.8 661.1,205.2 661.5,205.6 662.0,206.0 662.5,206.4 663.0,206.8 663.5,207.2 664.0,207.6 664.5,207.9 665.0,208.2 665.5,208.5 666.0,208.8 666.5,209.0 667.0,209.2 667.5,209.4 668.0,209.6 668.0,210.7" fill="#d63a20" stroke="#0a0a0a" stroke-width="1.7" stroke-linejoin="round"/>
<clipPath id="cw582"><rect x="592.2" y="0" width="0.09999999999990905" height="210.7"/></clipPath>
<clipPath id="ch582"><rect x="0" y="0" width="592.3" height="210.7"/></clipPath>
<path d="M578.00,210.70 C578.42,210.42 579.58,209.55 580.50,209.00 C581.42,208.45 582.57,207.83 583.50,207.40 C584.43,206.97 585.18,206.52 586.10,206.40 C587.02,206.28 588.12,206.53 589.00,206.70 C589.88,206.87 590.23,207.18 591.40,207.40 C592.57,207.62 593.90,207.82 596.00,208.00 C598.10,208.18 600.83,208.37 604.00,208.50 C607.17,208.63 610.67,208.72 615.00,208.80 C619.33,208.88 625.83,208.93 630.00,209.00 C634.17,209.07 635.83,209.13 640.00,209.20 C644.17,209.27 650.33,209.15 655.00,209.40 C659.67,209.65 665.83,210.48 668.00,210.70 L668,210.7 L578,210.7 Z" fill="#fff" clip-path="url(#cw582)"/>
<clipPath id="ct582"><rect x="0" y="0" width="592.2" height="210.7"/></clipPath>
<path d="M578.00,210.70 C578.42,210.42 579.58,209.55 580.50,209.00 C581.42,208.45 582.57,207.83 583.50,207.40 C584.43,206.97 585.18,206.52 586.10,206.40 C587.02,206.28 588.12,206.53 589.00,206.70 C589.88,206.87 590.23,207.18 591.40,207.40 C592.57,207.62 593.90,207.82 596.00,208.00 C598.10,208.18 600.83,208.37 604.00,208.50 C607.17,208.63 610.67,208.72 615.00,208.80 C619.33,208.88 625.83,208.93 630.00,209.00 C634.17,209.07 635.83,209.13 640.00,209.20 C644.17,209.27 650.33,209.15 655.00,209.40 C659.67,209.65 665.83,210.48 668.00,210.70 L668,210.7 L578,210.7 Z" fill="#7a2050" fill-opacity="0.12" clip-path="url(#ct582)"/>
<clipPath id="cs582"><path d="M578.00,210.70 C578.42,210.42 579.58,209.55 580.50,209.00 C581.42,208.45 582.57,207.83 583.50,207.40 C584.43,206.97 585.18,206.52 586.10,206.40 C587.02,206.28 588.12,206.53 589.00,206.70 C589.88,206.87 590.23,207.18 591.40,207.40 C592.57,207.62 593.90,207.82 596.00,208.00 C598.10,208.18 600.83,208.37 604.00,208.50 C607.17,208.63 610.67,208.72 615.00,208.80 C619.33,208.88 625.83,208.93 630.00,209.00 C634.17,209.07 635.83,209.13 640.00,209.20 C644.17,209.27 650.33,209.15 655.00,209.40 C659.67,209.65 665.83,210.48 668.00,210.70 L668,210.7 L578,210.7 Z"/></clipPath>
<g clip-path="url(#ch582)"><path d="" stroke="#3545b8" stroke-width="0.75" fill="none" clip-path="url(#cs582)"/></g>
<path d="M578.00,210.70 C578.42,210.42 579.58,209.55 580.50,209.00 C581.42,208.45 582.57,207.83 583.50,207.40 C584.43,206.97 585.18,206.52 586.10,206.40 C587.02,206.28 588.12,206.53 589.00,206.70 C589.88,206.87 590.23,207.18 591.40,207.40 C592.57,207.62 593.90,207.82 596.00,208.00 C598.10,208.18 600.83,208.37 604.00,208.50 C607.17,208.63 610.67,208.72 615.00,208.80 C619.33,208.88 625.83,208.93 630.00,209.00 C634.17,209.07 635.83,209.13 640.00,209.20 C644.17,209.27 650.33,209.15 655.00,209.40 C659.67,209.65 665.83,210.48 668.00,210.70" fill="none" stroke="#0a0a0a" stroke-width="0.8"/>
<line x1="592.2" y1="210.7" x2="591.6" y2="208.2" stroke="#0a0a0a" stroke-width="0.7"/>
<path d="M567.50,208.30 C567.88,207.95 569.10,207.12 569.80,206.20 C570.50,205.28 571.08,204.43 571.70,202.80 C572.32,201.17 573.02,198.87 573.50,196.40 C573.98,193.93 574.42,189.40 574.60,188.00" fill="none" stroke="#0a0a0a" stroke-width="0.8"/>
<path d="M589.00,186.00 C589.13,187.73 589.40,193.57 589.80,196.40 C590.20,199.23 590.82,201.43 591.40,203.00 C591.98,204.57 592.63,205.13 593.30,205.80 C593.97,206.47 594.45,206.67 595.40,207.00 C596.35,207.33 597.45,207.58 599.00,207.80 C600.55,208.02 603.75,208.22 604.70,208.30" fill="none" stroke="#0a0a0a" stroke-width="0.8"/>
<path d="M604.70,208.40" fill="none" stroke="#0a0a0a" stroke-width="0.9" stroke-linejoin="round" stroke-linecap="round"/>
<path d="M604.70,208.40 C605.92,208.45 609.45,208.63 612.00,208.70 C614.55,208.77 617.33,208.82 620.00,208.80 C622.67,208.78 625.33,208.63 628.00,208.60 C630.67,208.57 633.67,208.67 636.00,208.60 C638.33,208.53 640.33,208.47 642.00,208.20 C643.67,207.93 645.23,207.36 646.00,207.00 C646.77,206.64 646.38,206.36 646.65,206.03 C646.92,205.71 647.32,205.37 647.65,205.05 C647.98,204.72 648.32,204.39 648.65,204.09 C648.98,203.78 649.48,203.35 649.65,203.20" fill="none" stroke="#0a0a0a" stroke-width="1.5" stroke-linejoin="round" stroke-linecap="round"/>
<polyline points="578.8,105.7 578.8,104.2 578.9,102.7 578.9,101.2 579.0,99.7 579.0,98.2 579.1,96.7 579.1,95.2 579.2,93.7 579.2,92.2 579.2,90.7 579.3,89.2 579.3,87.7 579.4,86.2 579.4,84.7 579.5,83.2 579.6,81.7 579.6,80.2 579.7,78.7 579.8,77.2 579.8,75.7 580.0,74.2 580.1,72.7 580.2,71.2 580.3,69.7 580.4,68.2 580.6,66.7 580.8,65.2 580.9,63.7 581.1,62.2 581.2,60.7 581.3,59.2 581.4,57.7 581.5,56.2 581.6,57.7 581.8,59.2 581.9,60.7 582.1,62.2 582.3,63.7 582.5,65.2 582.7,66.7 582.9,68.2 583.1,69.7 583.2,71.2 583.3,72.7 583.5,74.2 583.6,75.7 583.8,77.2 583.9,78.7 584.0,80.2 584.1,81.7 584.2,83.2 584.3,84.7 584.4,86.2 584.5,87.7 584.5,89.2 584.6,90.7 584.7,92.2 584.8,93.7 584.9,95.2 584.9,96.7 585.0,98.2 585.0,99.7 585.1,101.2 585.1,102.7 585.2,104.2 585.2,105.7" fill="none" stroke="#0a0a0a" stroke-width="1.2" stroke-linejoin="round" stroke-linecap="round"/>
<path d="M646.00,207.00 C646.50,206.58 648.00,205.40 649.00,204.50 C650.00,203.60 651.12,202.25 652.00,201.60 C652.88,200.95 653.47,200.57 654.30,200.60 C655.13,200.63 656.05,201.15 657.00,201.80 C657.95,202.45 658.92,203.60 660.00,204.50 C661.08,205.40 662.92,206.75 663.50,207.20" fill="none" stroke="#0a0a0a" stroke-width="1.0" stroke-linejoin="round"/>
<path d="M667.00,209.00 C667.83,208.97 670.17,208.77 672.00,208.80 C673.83,208.83 676.50,208.88 678.00,209.20 C679.50,209.52 680.50,210.45 681.00,210.70" fill="none" stroke="#0a0a0a" stroke-width="1.0"/>
<polygon points="581.8,210.8 577.0999999999999,222.10000000000002 586.5,222.10000000000002" fill="#000"/>
<polygon points="654.5,210.8 649.8,222.10000000000002 659.2,222.10000000000002" fill="#000"/>
<text x="583.2" y="241.0" text-anchor="middle" class="t">2N</text>
<text x="653.0" y="241.0" text-anchor="middle" class="t">4N</text>
<line x1="101.4" y1="430.0" x2="288" y2="430.0" stroke="#111" stroke-width="1.4" stroke-dasharray="1.9 2.1" stroke-dashoffset="-0.8"/>
<line x1="101.4" y1="396.2" x2="288" y2="396.2" stroke="#111" stroke-width="1.4" stroke-dasharray="1.9 2.1" stroke-dashoffset="-0.8"/>
<line x1="101.4" y1="363.0" x2="288" y2="363.0" stroke="#111" stroke-width="1.4" stroke-dasharray="1.9 2.1" stroke-dashoffset="-0.8"/>
<line x1="101.4" y1="329.0" x2="288" y2="329.0" stroke="#111" stroke-width="1.4" stroke-dasharray="1.9 2.1" stroke-dashoffset="-0.8"/>
<line x1="101.4" y1="296.3" x2="288" y2="296.3" stroke="#111" stroke-width="1.4" stroke-dasharray="1.9 2.1" stroke-dashoffset="-0.8"/>
<rect x="119.3" y="296.4" width="25.3" height="27.7" fill="#fff"/>
<rect x="119.3" y="324.1" width="25.3" height="36.3" fill="url(#hatch)"/>
<rect x="119.3" y="360.4" width="25.3" height="102.3" fill="url(#check)"/>
<line x1="119.3" y1="324.1" x2="144.6" y2="324.1" stroke="#000" stroke-width="1.6"/>
<line x1="119.3" y1="360.4" x2="144.6" y2="360.4" stroke="#000" stroke-width="1.2"/>
<rect x="119.3" y="296.4" width="25.3" height="166.3" fill="none" stroke="#000" stroke-width="2.2"/>
<rect x="183.5" y="296.4" width="23.0" height="26.4" fill="#fff"/>
<rect x="183.5" y="322.8" width="23.0" height="47.4" fill="url(#hatch)"/>
<rect x="183.5" y="370.2" width="23.0" height="92.5" fill="url(#check)"/>
<line x1="183.5" y1="322.8" x2="206.5" y2="322.8" stroke="#000" stroke-width="1.6"/>
<line x1="183.5" y1="370.2" x2="206.5" y2="370.2" stroke="#000" stroke-width="1.2"/>
<rect x="183.5" y="296.4" width="23.0" height="166.3" fill="none" stroke="#000" stroke-width="2.2"/>
<rect x="245.5" y="296.4" width="25.1" height="18.8" fill="#fff"/>
<rect x="245.5" y="315.2" width="25.1" height="13.4" fill="url(#hatch)"/>
<rect x="245.5" y="328.6" width="25.1" height="134.1" fill="url(#check)"/>
<line x1="245.5" y1="315.2" x2="270.6" y2="315.2" stroke="#000" stroke-width="1.6"/>
<line x1="245.5" y1="328.6" x2="270.6" y2="328.6" stroke="#000" stroke-width="1.2"/>
<rect x="245.5" y="296.4" width="25.1" height="166.3" fill="none" stroke="#000" stroke-width="2.2"/>
<line x1="101.4" y1="295.59999999999997" x2="101.4" y2="463.8" stroke="#000" stroke-width="2.2"/>
<line x1="100.30000000000001" y1="462.7" x2="288" y2="462.7" stroke="#000" stroke-width="2.2"/>
<text x="88.8" y="304.6" text-anchor="end" class="t">100</text>
<text x="88.8" y="339.6" text-anchor="end" class="t">80</text>
<text x="88.8" y="371.6" text-anchor="end" class="t">60</text>
<text x="88.8" y="404.5" text-anchor="end" class="t">40</text>
<text x="88.8" y="436.8" text-anchor="end" class="t">20</text>
<text x="87.4" y="468.7" text-anchor="end" class="t">0</text>
<text x="133.9" y="486.3" text-anchor="middle" class="t">Vehicle</text>
<text x="194.6" y="486.3" text-anchor="middle" class="t">OBG</text>
<text x="263" y="486.3" text-anchor="middle" class="t">GW3965</text>
<text transform="translate(27.7,378) rotate(-90)" text-anchor="middle" style="font-size:16px" textLength="70" lengthAdjust="spacing">Cell cycle</text>
<text transform="translate(52.9,378) rotate(-90)" text-anchor="middle" style="font-size:16px">distribution (%)</text>
<rect x="320.5" y="340.9" width="9.6" height="9.6" fill="#fff" stroke="#000" stroke-width="1.5"/>
<clipPath id="lg"><rect x="320.5" y="373.9" width="9.6" height="9.6"/></clipPath>
<rect x="320.5" y="373.9" width="9.6" height="9.6" fill="#fff" stroke="#000" stroke-width="1.5"/>
<path d="M319.0,378.9 L325.6,372.4 M320.3,383.2 L330.0,373.8 M324.5,384.6 L331.5,377.8" stroke="#000" stroke-width="1.5" fill="none" clip-path="url(#lg)"/>
<rect x="320.5" y="404.6" width="9.6" height="9.6" fill="url(#check)" stroke="#000" stroke-width="1.5"/>
<text x="347.6" y="348.6" class="t">S</text>
<text x="337.6" y="385.2" class="t" textLength="39.2" lengthAdjust="spacingAndGlyphs">G2/M</text>
<text x="342.4" y="415.5" class="t">G1</text>
</svg></body></html>
